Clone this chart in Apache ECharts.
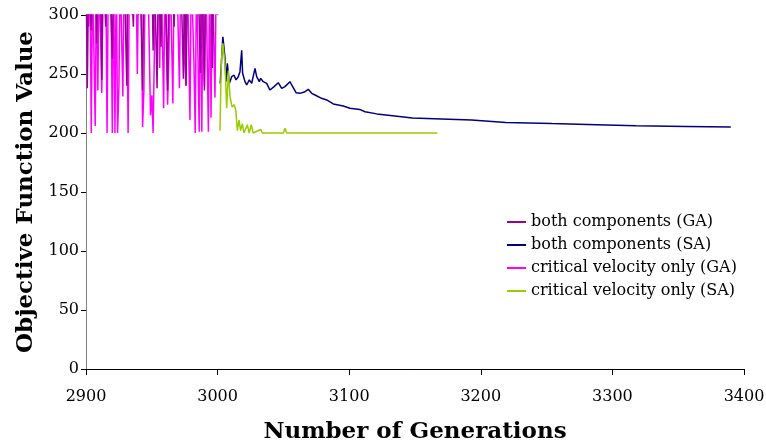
<!DOCTYPE html>
<html>
<head>
<meta charset="utf-8">
<script src="https://cdn.jsdelivr.net/npm/echarts@6/dist/echarts.min.js"></script>
<style>
  html, body { margin: 0; padding: 0; background: #ffffff; }
  #chart { width: 766px; height: 443px; }
</style>
</head>
<body>
<div id="chart"></div>
<script>
// Generations covered by the GA runs (one point per generation, 2900..3000)
const gaStart = 2900;

// Objective values per generation; values above 300 run off the top of the plot
const gaBoth = [
  340,238,340,340,287,340,340,340,276,340,
  340,340,245,340,340,290,340,340,340,340,
  263,340,340,340,340,340,340,340,340,340,
  340,240,340,340,340,340,290,340,340,340,
  300,340,340,236,340,340,340,340,340,340,
  340,270,340,340,238,340,340,273,340,340,
  340,340,236,340,340,340,340,290,340,340,
  340,340,340,340,246,340,240,340,340,340,
  340,340,340,340,340,340,340,251,340,340,
  236,340,340,340,340,340,255,340,340,340,
  340
];

const gaCritical = [
  340,340,290,340,200,340,270,206,340,236,
  340,340,234,340,340,340,200,340,340,320,
  200,340,200,340,200,238,340,340,231,340,
  340,320,200,340,340,300,340,340,340,250,
  340,340,340,205,236,340,340,340,340,215,
  232,200,201,340,340,340,255,340,285,221,
  340,340,224,265,340,340,225,340,340,340,
  340,238,340,340,340,260,240,340,340,211,
  340,340,260,200,340,340,201,340,201,340,
  240,340,340,201,340,213,340,340,230,340,
  300
];

// SA run, both components
const saBothGens = [
  3002,3004,3005.6,3006.4,3007.4,3008.9,3010.7,3012.5,3014,3015.7,
  3017,3018.3,3019,3020.8,3022.1,3024.1,3025.9,3028.4,3029.7,3031.7,
  3032.7,3034.7,3037.3,3039.8,3042.9,3046.1,3048.7,3051.2,3055,3056.3,
  3059.6,3062.6,3066.4,3068.9,3071.5,3074,3079,3082.9,3087.9,3095.5,
  3100.6,3108,3112,3121,3133,3148,3170,3193,3219,3254,
  3281,3318,3356,3390
];
const saBothVals = [
  242,281.6,264,243.5,259,242,247.7,249,245,247.7,
  252,270,250.6,243.5,240.7,245,242,254.8,247.7,243.5,
  246.3,243.5,242,236.4,239.3,242.6,237.8,239.3,243.5,240.7,
  234.2,233.6,235,237,233.6,232.2,229.4,228,224.6,222.9,
  221,220,218,216.2,214.7,212.7,211.9,211,209,208,
  207.3,206.1,205.5,205
];

// SA run, critical velocity only
const saCritGens = [
  3001.8,3002.8,3004,3005.6,3006.9,3008.2,3009.4,3011,3012.5,3013.8,
  3015,3016.3,3017.5,3018.8,3020,3022.6,3024,3025.6,3027,3032.8,
  3034,3050,3051.2,3052.5,3074,3075,3076,3151,3152,3153,
  3167
];
const saCritVals = [
  202,260,276,259,221,253,231,222,224,220,
  202,211,202,208,200,207,200,207,200,203,
  200,200,204,200,200,201.5,200,200,201,200,
  200
];

// Axis ticks
const xTicks = [2900, 3000, 3100, 3200, 3300, 3400];
const yTicks = [0, 50, 100, 150, 200, 250, 300];

const seriesNames = [
  'both components (GA)',
  'both components (SA)',
  'critical velocity only (GA)',
  'critical velocity only (SA)'
];

const pairsFromStart = (start, vals) => vals.map((v, i) => [start + i, v]);
const zip = (xs, ys) => xs.map((x, i) => [x, ys[i]]);

const serif = 'DejaVu Serif';

const chart = echarts.init(document.getElementById('chart'), null, { renderer: 'canvas' });

const lineSeries = (name, data, color, width) => ({
  name, type: 'line', data,
  showSymbol: false, symbol: 'none',
  lineStyle: { color, width },
  itemStyle: { color },
  clip: true,
  animation: false
});

chart.setOption({
  backgroundColor: '#ffffff',
  animation: false,
  grid: { left: 86, right: 22, top: 15, bottom: 74, outerBoundsMode: 'none', containLabel: false },
  legend: {
    data: seriesNames,
    orient: 'vertical',
    left: 502, top: 209,
    icon: 'rect',
    itemWidth: 19, itemHeight: 2,
    itemGap: 7,
    textStyle: { fontFamily: serif, fontSize: 16, color: '#000', lineHeight: 16 }
  },
  xAxis: {
    type: 'value',
    min: xTicks[0], max: xTicks[xTicks.length - 1], interval: 100,
    name: 'Number of Generations',
    nameLocation: 'middle', nameGap: 52,
    nameTextStyle: { fontFamily: serif, fontSize: 23, fontWeight: 'bold', color: '#000' },
    axisLine: { lineStyle: { color: '#000', width: 1 } },
    axisTick: { show: true, inside: false, length: 6, lineStyle: { color: '#000' } },
    axisLabel: { fontFamily: serif, fontSize: 16, color: '#000', margin: 20, formatter: v => String(v) },
    splitLine: { show: false }
  },
  yAxis: {
    type: 'value',
    min: yTicks[0], max: yTicks[yTicks.length - 1], interval: 50,
    name: 'Objective Function Value',
    nameLocation: 'middle', nameGap: 41, nameRotate: 90,
    nameTextStyle: { fontFamily: serif, fontSize: 23, fontWeight: 'bold', color: '#000' },
    axisLine: { show: true, lineStyle: { color: '#808080', width: 1 } },
    axisTick: { show: true, inside: false, length: 5, lineStyle: { color: '#000' } },
    axisLabel: { fontFamily: serif, fontSize: 16, color: '#000', margin: 7, formatter: v => String(v) },
    splitLine: { show: false }
  },
  // magenta GA run drawn first so the purple GA run sits on top of it
  series: [
    lineSeries(seriesNames[2], pairsFromStart(gaStart, gaCritical), '#ff00ff', 1.5),
    lineSeries(seriesNames[0], pairsFromStart(gaStart, gaBoth), '#990099', 1.5),
    lineSeries(seriesNames[1], zip(saBothGens, saBothVals), '#000080', 1.5),
    lineSeries(seriesNames[3], zip(saCritGens, saCritVals), '#99cc00', 1.5)
  ]
});
</script>
</body>
</html>
